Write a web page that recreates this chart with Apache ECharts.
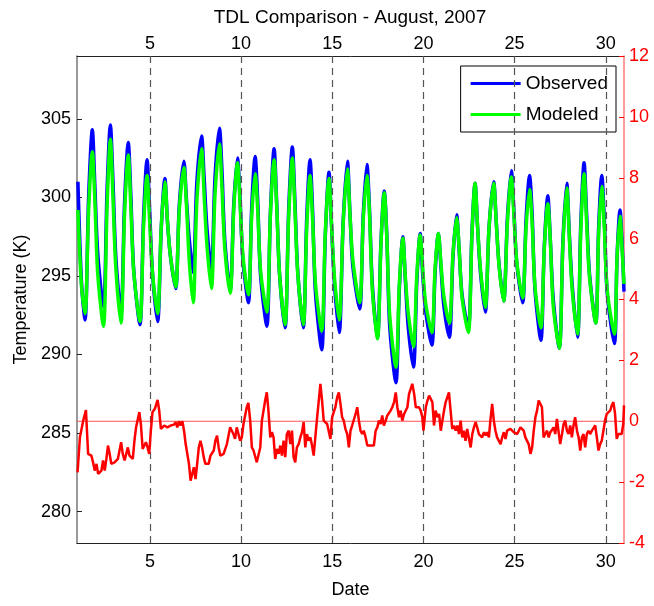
<!DOCTYPE html>
<html>
<head>
<meta charset="utf-8">
<title>TDL Comparison - August, 2007</title>
<script src="https://cdn.jsdelivr.net/npm/echarts@6/dist/echarts.min.js"></script>
<style>
  html, body { margin: 0; padding: 0; background: #fff; }
  #chart { width: 654px; height: 606px; }
</style>
</head>
<body>
<div id="chart"></div>
<script>
// tick labels
const dateTicks = [5, 10, 15, 20, 25, 30]
const tempTicks = [280, 285, 290, 295, 300, 305]

// day of month for the temperature curves: per day trough, rise, peak, fall, shoulder
const tempDays = [
  1.05, 1.25,
  1.44, 1.64, 1.84, 1.98, 2.14,
  2.45, 2.65, 2.83, 2.97, 3.13,
  3.41, 3.61, 3.81, 3.95, 4.11,
  4.45, 4.65, 4.84, 4.98, 5.14,
  5.42, 5.62, 5.82, 5.96, 6.12,
  6.41, 6.61, 6.86, 7.00, 7.16,
  7.37, 7.57, 7.83, 7.97, 8.13,
  8.37, 8.57, 8.81, 8.95, 9.11,
  9.40, 9.60, 9.80, 9.94, 10.10,
  10.40, 10.58, 10.77, 10.91, 11.07,
  11.41, 11.61, 11.81, 11.95, 12.11,
  12.41, 12.61, 12.81, 12.95, 13.11,
  13.41, 13.60, 13.78, 13.92, 14.08,
  14.42, 14.62, 14.82, 14.96, 15.12,
  15.38, 15.60, 15.83, 15.97, 16.13,
  16.50, 16.70, 16.90, 17.04, 17.20,
  17.48, 17.67, 17.85, 17.99, 18.15,
  18.49, 18.68, 18.87, 19.01, 19.17,
  19.45, 19.64, 19.82, 19.96, 20.12,
  20.46, 20.64, 20.82, 20.96, 21.12,
  21.42, 21.62, 21.82, 21.96, 22.12,
  22.46, 22.66, 22.83, 22.97, 23.13,
  23.39, 23.60, 23.85, 23.99, 24.15,
  24.40, 24.61, 24.82, 24.96, 25.12,
  25.44, 25.63, 25.82, 25.96, 26.12,
  26.44, 26.63, 26.82, 26.96, 27.12,
  27.45, 27.65, 27.86, 28.00, 28.16,
  28.45, 28.63, 28.81, 28.95, 29.11,
  29.45, 29.61, 29.78, 29.92, 30.08,
  30.47, 30.62, 30.78, 30.90,
  31.0
]
// observed temperature (K)
const observedTemp = [
  301.0, 294.5,
  292.2, 300.1, 304.3, 300.7, 296.4,
  293.0, 300.5, 304.6, 301.1, 296.2,
  292.6, 299.7, 303.5, 300.2, 295.4,
  291.9, 298.7, 302.4, 299.3, 295.2,
  292.1, 298.0, 301.2, 298.5, 296.3,
  294.2, 299.5, 302.3, 299.9, 297.3,
  295.2, 300.9, 303.9, 301.3, 298.0,
  295.4, 301.3, 304.4, 301.7, 297.2,
  294.1, 299.6, 302.5, 300.0, 296.0,
  293.3, 299.3, 302.6, 299.8, 295.0,
  291.8, 299.1, 303.1, 299.7, 295.1,
  291.7, 299.2, 303.2, 299.8, 295.2,
  291.7, 298.7, 302.4, 299.2, 293.9,
  290.3, 297.6, 301.6, 298.2, 294.5,
  291.4, 298.5, 302.3, 299.0, 295.6,
  292.9, 298.9, 302.1, 299.3, 294.4,
  291.1, 297.1, 300.4, 297.6, 291.8,
  288.2, 294.2, 297.5, 294.7, 291.7,
  289.2, 294.7, 297.7, 295.1, 292.8,
  290.6, 295.2, 297.7, 295.6, 293.1,
  291.1, 296.2, 298.9, 296.6, 293.8,
  291.7, 297.7, 300.9, 298.1, 295.2,
  292.7, 298.1, 301.0, 298.5, 295.7,
  293.4, 298.8, 301.7, 299.2, 295.8,
  293.3, 298.6, 301.4, 299.0, 294.1,
  290.9, 296.9, 300.1, 297.3, 293.5,
  290.4, 297.2, 300.9, 297.7, 294.4,
  291.1, 298.3, 302.2, 298.9, 295.1,
  292.0, 298.1, 301.4, 298.6, 293.9,
  290.7, 296.2, 299.2, 297.0,
  294.0
]
// modeled temperature (K)
const modeledTemp = [
  299.2, 294.3,
  292.6, 299.3, 302.9, 299.8, 295.1,
  291.8, 299.5, 303.7, 300.1, 295.5,
  292.0, 299.0, 302.7, 299.5, 295.3,
  292.1, 298.1, 301.4, 298.6, 295.2,
  292.6, 298.1, 301.0, 298.5, 296.3,
  294.3, 299.2, 301.9, 299.6, 295.9,
  293.3, 299.7, 303.1, 300.2, 296.9,
  294.2, 300.2, 303.4, 300.6, 296.7,
  293.9, 299.3, 302.2, 299.7, 296.3,
  293.8, 298.8, 301.5, 299.2, 295.3,
  292.7, 299.0, 302.4, 299.5, 295.1,
  291.9, 298.8, 302.5, 299.3, 295.1,
  291.9, 298.1, 301.4, 298.6, 294.5,
  291.5, 297.8, 301.2, 298.3, 294.9,
  292.2, 298.4, 301.8, 298.9, 296.0,
  293.3, 298.6, 301.4, 299.0, 294.1,
  291.0, 297.0, 300.3, 297.5, 292.5,
  289.2, 294.5, 297.4, 294.9, 292.6,
  290.5, 295.1, 297.6, 295.5, 293.3,
  291.4, 295.5, 297.7, 295.8, 293.7,
  292.0, 296.4, 298.7, 296.7, 293.6,
  291.4, 297.6, 300.9, 298.1, 295.4,
  293.0, 298.1, 300.9, 298.5, 295.6,
  293.4, 298.5, 301.3, 298.9, 295.9,
  293.6, 298.1, 300.5, 298.4, 294.3,
  291.7, 296.8, 299.6, 297.2, 293.1,
  290.4, 297.0, 300.6, 297.5, 294.1,
  291.3, 297.9, 301.5, 298.4, 294.9,
  292.0, 297.7, 300.7, 298.1, 294.1,
  291.3, 296.2, 298.8, 296.6,
  294.5
]

// difference curve (right axis)
const diffDays = [
  1.03, 1.16, 1.34, 1.49, 1.61, 1.79, 1.88, 1.97, 2.07, 2.16, 2.25, 2.34, 2.43, 2.52, 2.61, 2.70, 2.79, 2.88,
  3.06, 3.24, 3.42, 3.51, 3.61, 3.79, 3.88, 4.06, 4.15, 4.24, 4.42, 4.51, 4.60, 4.78, 4.87, 4.96,
  5.05, 5.14, 5.27, 5.42, 5.51, 5.60, 5.78, 5.96, 6.14, 6.32, 6.41, 6.50, 6.59, 6.68, 6.78, 6.87, 6.96,
  7.14, 7.23, 7.32, 7.41, 7.50, 7.59, 7.68, 7.77, 7.86, 7.95, 8.04, 8.13, 8.22, 8.32, 8.50, 8.59, 8.68,
  8.77, 8.86, 9.04, 9.22, 9.40, 9.49, 9.58, 9.67, 9.76, 9.86, 9.95, 10.04, 10.13, 10.31, 10.40,
  10.50, 10.59, 10.68, 10.77, 10.86, 10.95, 11.05, 11.14, 11.23, 11.32, 11.41, 11.50, 11.60, 11.69,
  11.78, 11.87, 11.96, 12.06, 12.15, 12.24, 12.33, 12.42, 12.51, 12.61, 12.70, 12.79, 12.88, 12.97,
  13.06, 13.16, 13.25, 13.34, 13.43, 13.52, 13.61, 13.71, 13.80, 13.89, 13.98, 14.07, 14.17, 14.26,
  14.35, 14.44, 14.53, 14.62, 14.72, 14.81, 14.90, 14.99, 15.08, 15.17, 15.27, 15.36, 15.45, 15.54,
  15.63, 15.72, 15.82, 15.91, 16.00, 16.09, 16.18, 16.28, 16.37, 16.46, 16.55, 16.64, 16.73, 16.83,
  16.92, 17.01, 17.10, 17.19, 17.28, 17.38, 17.47, 17.56, 17.65, 17.74, 17.83, 17.93, 18.02, 18.11,
  18.20, 18.29, 18.39, 18.48, 18.57, 18.66, 18.75, 18.84, 18.94, 19.03, 19.12, 19.21, 19.30, 19.39,
  19.49, 19.58, 19.67, 19.76, 19.85, 19.94, 20.00,
  20.13, 20.22, 20.31, 20.40, 20.49, 20.58, 20.67, 20.77, 20.86, 20.95, 21.04, 21.13, 21.22, 21.31,
  21.40, 21.49, 21.58, 21.68, 21.77, 21.86, 21.95, 22.04, 22.13, 22.22, 22.31, 22.40, 22.50, 22.59,
  22.68, 22.77, 22.86, 22.95, 23.04, 23.13, 23.22, 23.32, 23.41, 23.50, 23.59, 23.68, 23.77, 23.86,
  23.95, 24.04, 24.13, 24.23, 24.32, 24.41, 24.50, 24.59, 24.68, 24.77, 24.86, 24.95, 25.04, 25.14,
  25.23, 25.32, 25.41, 25.50, 25.59, 25.68, 25.77, 25.87, 25.96, 26.05, 26.14, 26.23, 26.32, 26.41,
  26.50, 26.59, 26.68, 26.78, 26.87, 26.96, 27.05, 27.14, 27.23, 27.32, 27.41, 27.50, 27.60, 27.69,
  27.78, 27.87, 27.96, 28.05, 28.14, 28.23, 28.32, 28.42, 28.51, 28.60, 28.69, 28.78, 28.87, 28.96,
  29.05, 29.14, 29.24, 29.33, 29.42, 29.51, 29.60, 29.69, 29.78, 29.87, 29.96, 30.05, 30.15, 30.24,
  30.33, 30.42, 30.51, 30.60, 30.69, 30.78, 30.87, 30.96, 31.0
]
const diffVals = [
  -1.68, -0.53, 0.02, 0.37, -1.07, -1.13, -1.35, -1.62, -1.40, -1.73, -1.79, -1.62, -1.29, -1.62, -1.24, -0.80, -1.07, -1.40,
  -1.35, -1.24, -0.69, -1.07, -1.29, -0.86, -1.13, -1.24, -0.64, -0.20, 0.30, -0.14, -0.91, -0.69, -0.86, -1.07,
  -0.31, 0.30, 0.41, 0.70, 0.35, -0.25, -0.14, -0.20, -0.14, -0.11, -0.03, -0.20, 0.00, -0.14, 0.00, -0.31, -0.75,
  -1.40, -1.95, -1.90, -1.51, -1.90, -1.40, -0.86, -0.64, -0.86, -1.18, -1.40, -1.46, -1.40, -1.13, -0.96, -0.64, -0.47,
  -0.86, -1.13, -1.07, -0.75, -0.20, -0.31, -0.42, -0.58, -0.20, -0.14, -0.64, -0.53, -0.09, 0.46, 0.60,
  0.02, -0.86, -0.96, -1.02, -1.35, -1.40, -0.86, 0.02, 0.35, 0.68, 0.95, 0.35, -0.53, -0.36,
  -0.53, -1.24, -0.91, -1.07, -0.80, -1.13, -0.64, -1.18, -0.42, -0.31, -0.75, -0.31, -1.18, -1.35,
  -0.86, -0.75, -0.53, -0.36, -0.03, -0.86, -0.42, -0.64, -0.53, -0.80, -1.13, -0.53, 0.13, 0.68,
  1.23, 0.68, 0.02, 0.08, -0.09, -0.03, -0.58, 0.13, 0.30, 0.46, 0.79, 0.95, 0.57, 0.13,
  0.02, -0.25, -0.42, -0.86, -0.31, -0.14, -0.20, 0.24, 0.46, 0.02, -0.31, -0.42, -0.31, -0.53,
  -0.80, -0.80, -0.80, -0.75, -0.80, -0.31, -0.20, 0.02, -0.09, 0.19, -0.14, 0.02, 0.19, 0.13,
  0.35, 0.46, 0.63, 0.95, 0.46, 0.13, 0.35, 0.02, 0.24, 0.24, 0.46, 0.90, 1.06, 1.23,
  0.90, 0.46, 0.41, 0.46, 0.35, 0.13, -0.31,
  0.46, 0.68, 0.84, 0.90, 0.63, -0.14, 0.35, 0.13, 0.24, -0.31, 0.02, 0.35, 0.63, 0.79,
  0.95, 0.35, -0.25, -0.14, -0.31, -0.14, -0.42, 0.02, -0.53, -0.31, -0.64, -0.25, -0.31, -0.86,
  -0.42, -0.20, -0.03, -0.20, -0.42, -0.36, -0.53, -0.36, -0.47, -0.36, -0.53, 0.08, 0.57, 0.02,
  -0.31, -0.53, -0.58, -0.75, -0.53, -0.36, -0.58, -0.31, -0.36, -0.25, -0.31, -0.36, -0.42, -0.42,
  -0.31, -0.20, -0.14, -0.31, -0.53, -0.58, -0.75, -1.07, -0.86, -0.31, 0.13, 0.35, 0.68, 0.68,
  0.46, -0.53, -0.58, -0.31, -0.53, -0.36, -0.31, -0.20, -0.42, 0.08, 0.13, -0.75, -0.42, -0.09,
  0.02, -0.31, -0.42, -0.14, -0.53, -0.14, 0.13, -0.31, -0.53, -0.96, -0.53, -0.42, -0.86, -0.42,
  -0.31, -0.42, -0.31, -0.25, -0.14, -0.53, -0.96, -0.75, -0.64, -0.31, 0.02, 0.24, 0.19, 0.35,
  0.52, 0.63, 0.24, -0.58, -0.42, -0.36, -0.42, -0.09, 0.52
]

// thin reference line at zero difference
const zeroDays = [1, 31]
const zeroVals = [0, 0]

const FONT = '"Liberation Sans", Arial, Helvetica, sans-serif'
const pairs = (xs, ys) => xs.map((x, i) => [x, ys[i]])

const chart = echarts.init(document.getElementById('chart'), null, { renderer: 'canvas' })

// black date axis, used at the bottom and the top
const dateAxis = (pos, margin) => ({
  type: 'value',
  position: pos,
  min: 1,
  max: 31,
  axisLine: { onZero: false, lineStyle: { color: '#222', width: 1 } },
  axisTick: { inside: true, length: 5, customValues: dateTicks, lineStyle: { color: '#222' } },
  axisLabel: { customValues: dateTicks, margin: margin, color: '#000', fontSize: 18, fontFamily: FONT },
  splitLine: { show: false }
})

chart.setOption({
  animation: false,
  backgroundColor: '#fff',
  textStyle: { fontFamily: FONT },
  grid: { left: 77, right: 30, top: 56, bottom: 63 },
  graphic: [{
    type: 'text',
    x: 350,
    y: 18,
    style: {
      text: 'TDL Comparison - August, 2007',
      font: '19px ' + FONT,
      fill: '#000',
      align: 'center',
      verticalAlign: 'middle'
    }
  }],
  legend: {
    data: ['Observed', 'Modeled'],
    orient: 'vertical',
    right: 38,
    top: 66,
    icon: 'rect',
    itemWidth: 50,
    itemHeight: 3,
    itemGap: 12,
    padding: [8, 8, 8, 10],
    backgroundColor: '#fff',
    borderColor: '#000',
    borderWidth: 1,
    borderRadius: 0,
    textStyle: { color: '#000', fontSize: 19, fontFamily: FONT }
  },
  xAxis: [
    Object.assign(dateAxis('bottom', 10), {
      name: 'Date',
      nameLocation: 'middle',
      nameGap: 38,
      nameTextStyle: { color: '#000', fontSize: 18, fontFamily: FONT }
    }),
    dateAxis('top', 3)
  ],
  yAxis: [
    {
      type: 'value',
      position: 'left',
      min: 278,
      max: 309,
      name: 'Temperature (K)',
      nameLocation: 'middle',
      nameGap: 43,
      nameTextStyle: { color: '#000', fontSize: 18, fontFamily: FONT },
      axisLine: { show: true, lineStyle: { color: '#777', width: 1.5 } },
      axisTick: { show: true, inside: true, length: 5, customValues: tempTicks, lineStyle: { color: '#222' } },
      axisLabel: { customValues: tempTicks, margin: 6, color: '#000', fontSize: 18, fontFamily: FONT },
      splitLine: { show: false }
    },
    {
      type: 'value',
      position: 'right',
      min: -4,
      max: 12,
      interval: 2,
      axisLine: { show: true, lineStyle: { color: '#ff7a7a', width: 1.5 } },
      axisTick: { show: true, inside: true, length: 5, lineStyle: { color: '#ff0000' } },
      axisLabel: { margin: 5, color: '#ff0000', fontSize: 18, fontFamily: FONT },
      splitLine: { show: false }
    }
  ],
  series: [
    {
      name: 'Observed',
      type: 'line',
      xAxisIndex: 0,
      yAxisIndex: 0,
      data: pairs(tempDays, observedTemp),
      showSymbol: false,
      smooth: 0.3,
      z: 2,
      itemStyle: { color: '#0000ff' },
      lineStyle: { color: '#0000ff', width: 3.5 }
    },
    {
      name: 'Modeled',
      type: 'line',
      xAxisIndex: 0,
      yAxisIndex: 0,
      data: pairs(tempDays, modeledTemp),
      showSymbol: false,
      smooth: 0.3,
      z: 3,
      itemStyle: { color: '#00ff00' },
      lineStyle: { color: '#00ff00', width: 3.5 },
      // dashed day markers
      markLine: {
        silent: true,
        symbol: 'none',
        label: { show: false },
        lineStyle: { color: '#555', width: 1.2, type: [7, 5] },
        data: dateTicks.map(d => ({ xAxis: d }))
      }
    },
    {
      name: 'Zero',
      type: 'line',
      xAxisIndex: 0,
      yAxisIndex: 1,
      data: pairs(zeroDays, zeroVals),
      showSymbol: false,
      silent: true,
      z: 4,
      itemStyle: { color: '#ff5050' },
      lineStyle: { color: '#ff5050', width: 1.2 }
    },
    {
      name: 'Difference',
      type: 'line',
      xAxisIndex: 0,
      yAxisIndex: 1,
      data: pairs(diffDays, diffVals),
      showSymbol: false,
      z: 5,
      itemStyle: { color: '#ff0000' },
      lineStyle: { color: '#ff0000', width: 2.5 }
    }
  ]
})
</script>
</body>
</html>
